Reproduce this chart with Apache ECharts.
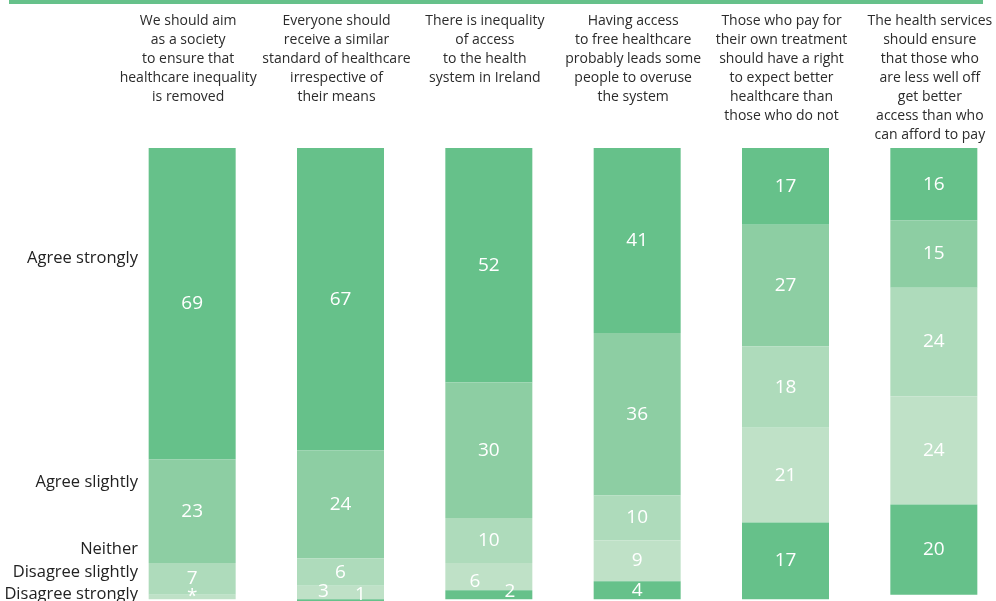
<!DOCTYPE html>
<html>
<head>
<meta charset="utf-8">
<script src="https://cdn.jsdelivr.net/npm/echarts@6/dist/echarts.min.js"></script>
<style>
  html, body { margin: 0; padding: 0; background: #ffffff; }
  #chart { width: 996px; height: 601px; }
</style>
</head>
<body>
<div id="chart"></div>
<script>
// Statements, one column each
const statements = [
  'We should aim\nas a society\nto ensure that\nhealthcare inequality\nis removed',
  'Everyone should\nreceive a similar\nstandard of healthcare\nirrespective of\ntheir means',
  'There is inequality\nof access\nto the health\nsystem in Ireland',
  'Having access\nto free healthcare\nprobably leads some\npeople to overuse\nthe system',
  'Those who pay for\ntheir own treatment\nshould have a right\nto expect better\nhealthcare than\nthose who do not',
  'The health services\nshould ensure\nthat those who\nare less well off\nget better\naccess than who\ncan afford to pay'
];

// Response scale, top to bottom
const responses = ['Agree strongly', 'Agree slightly', 'Neither', 'Disagree slightly', 'Disagree strongly'];

// Percentages per response
const agreeStrongly    = [69, 67, 52, 41, 17, 16];
const agreeSlightly    = [23, 24, 30, 36, 27, 15];
const neither          = [7, 6, 10, 10, 18, 24];
const disagreeSlightly = [1, 3, 6, 9, 21, 24];
const disagreeStrongly = [null, 1, 2, 4, 17, 20];

// Printed text where it differs from the number ('*' = under half a percent)
const disagreeSlightlyText = ['*', '3', '6', '9', '21', '24'];

const seriesValues = [agreeStrongly, agreeSlightly, neither, disagreeSlightly, disagreeStrongly];
const seriesText = [null, null, null, disagreeSlightlyText, null];
const colors = ['#66c18a', '#8dcea3', '#aedbbb', '#bfe1c7', '#66c18a'];

// Labels of thin segments are nudged sideways so they don't overlap
const labelNudges = {
  '3-1': [-17, -1],
  '4-1': [20, -6],
  '3-2': [-14, 5],
  '4-2': [21, -3]
};

const font = '"Open Sans", "Noto Sans", sans-serif';

const series = seriesValues.map((vals, s) => ({
  name: responses[s],
  type: 'bar',
  stack: 'total',
  barWidth: 87,
  itemStyle: { color: colors[s] },
  label: {
    show: true,
    position: 'inside',
    color: '#ffffff',
    fontFamily: font,
    fontSize: 19,
    formatter: p => (seriesText[s] ? seriesText[s][p.dataIndex] : String(p.value))
  },
  data: vals.map((v, i) => {
    const nudge = labelNudges[s + '-' + i];
    if (v === null) return '-';
    return nudge ? { value: v, label: { offset: nudge } } : v;
  })
}));

const rowLabelY = [258, 482, 549, 572, 594];

const chart = echarts.init(document.getElementById('chart'), null, { renderer: 'canvas' });
chart.setOption({
  animation: false,
  backgroundColor: '#ffffff',
  grid: { left: 118, top: 148, width: 890, bottom: 0, outerBoundsMode: 'none', containLabel: false },
  xAxis: {
    type: 'category',
    position: 'top',
    data: statements,
    axisLine: { show: false },
    axisTick: { show: false },
    axisLabel: {
      interval: 0,
      margin: 136,
      verticalAlign: 'top',
      align: 'center',
      padding: [0, 8, 0, 0],
      lineHeight: 19,
      fontFamily: font,
      fontSize: 14,
      color: '#2b2b2b'
    }
  },
  yAxis: {
    type: 'value',
    inverse: true,
    min: 0,
    max: 100.4,
    show: false
  },
  series: series,
  graphic: [
    {
      type: 'rect',
      shape: { x: 9, y: 0, width: 974, height: 4 },
      style: { fill: '#66c18a' },
      silent: true
    }
  ].concat(responses.map((r, i) => ({
    type: 'text',
    x: 138,
    y: rowLabelY[i],
    style: {
      text: r,
      fill: '#222222',
      font: '16.5px ' + font,
      textAlign: 'right',
      textVerticalAlign: 'middle'
    },
    silent: true
  })))
});
</script>
</body>
</html>
